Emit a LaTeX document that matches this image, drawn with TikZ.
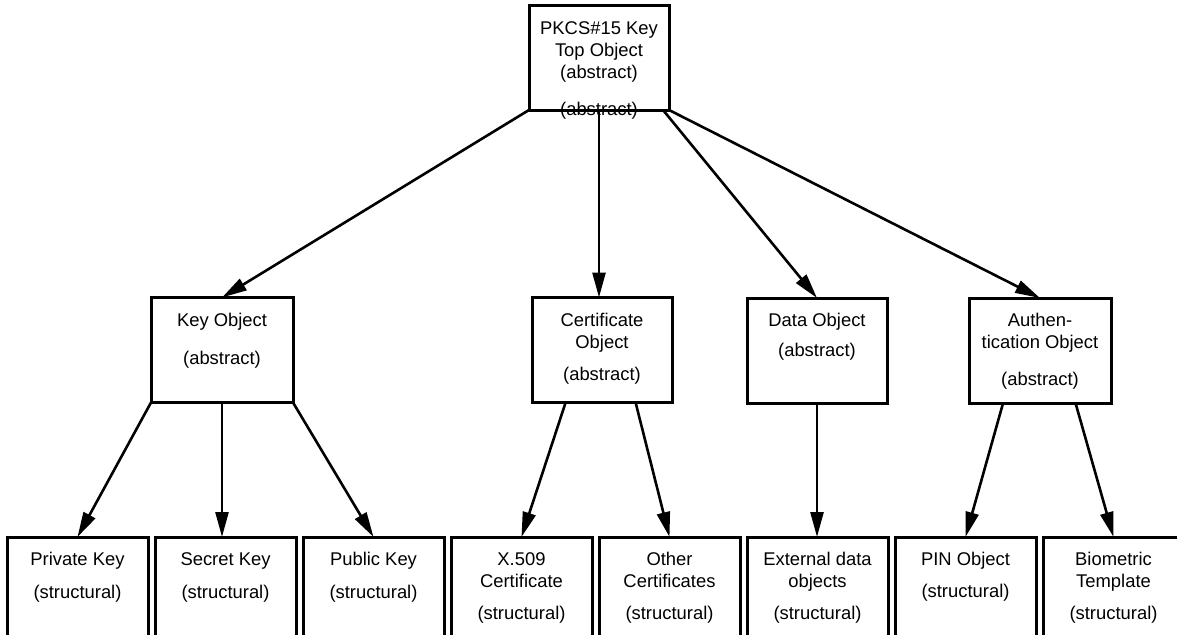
\documentclass[tikz,border=0pt]{standalone}
\usepackage{fontspec}
\setmainfont{Liberation Sans}
\usetikzlibrary{arrows.meta,calc}

\begin{document}
\begin{tikzpicture}[x=1pt,y=-1pt,
  box/.style={draw=black, line width=3pt, inner sep=0pt, outer sep=0pt,
              minimum width=#1},
  upper/.style={box=#1, minimum height=105pt},
  lower/.style={box=141pt, minimum height=143pt},
  lbl/.style={anchor=north, inner sep=0pt, align=center,
              font=\fontsize{18.4}{22}\selectfont},
  link/.style={line width=2.6pt, -{Triangle[length=25pt,width=13pt]}}]

\useasboundingbox (0,0) rectangle (1177,634);
\clip (0,0) rectangle (1177,634);

% root object
\node[box=140pt, minimum height=104pt] (top) at (599,58) {};
\node[lbl] (top-t) at ([yshift=-15pt]top.north)
  {PKCS\#15 Key\\Top Object\\(abstract)\\[15pt](abstract)};

% abstract classes
\node[upper=142pt] (key)  at (222,350)   {};
\node[upper=140pt] (cert) at (602,350)   {};
\node[upper=140pt] (data) at (817,350.5) {};
\node[upper=142pt] (auth) at (1040,350.5) {};

\node[lbl] (key-t)  at ([yshift=-15pt]key.north)  {Key Object\\[16pt](abstract)};
\node[lbl] (cert-t) at ([yshift=-15pt]cert.north) {Certificate\\Object\\[10pt](abstract)};
\node[lbl] (data-t) at ([yshift=-15pt]data.north) {Data Object\\[8pt](abstract)};
\node[lbl] (auth-t) at ([yshift=-15pt]auth.north) {Authen-\\tication Object\\[15pt](abstract)};

% structural classes
\node[lower] (priv)  at (77.5,608.5)   {};
\node[lower] (sec)   at (225.5,608.5)  {};
\node[lower] (pub)   at (373.5,608.5)  {};
\node[lower] (x509)  at (521.5,608.5)  {};
\node[lower] (other) at (669.5,608.5)  {};
\node[lower] (ext)   at (817.5,608.5)  {};
\node[lower] (pin)   at (965.5,608.5)  {};
\node[lower] (bio)   at (1113.5,608.5) {};

\node[lbl] (priv-t)  at ([yshift=-15pt]priv.north)  {Private Key\\[11pt](structural)};
\node[lbl] (sec-t)   at ([yshift=-15pt]sec.north)   {Secret Key\\[11pt](structural)};
\node[lbl] (pub-t)   at ([yshift=-15pt]pub.north)   {Public Key\\[11pt](structural)};
\node[lbl] (x509-t)  at ([yshift=-15pt]x509.north)  {X.509\\Certificate\\[10pt](structural)};
\node[lbl] (other-t) at ([yshift=-15pt]other.north) {Other\\Certificates\\[10pt](structural)};
\node[lbl] (ext-t)   at ([yshift=-15pt]ext.north)   {External data\\objects\\[10pt](structural)};
\node[lbl] (pin-t)   at ([yshift=-15pt]pin.north)   {PIN Object\\[10pt](structural)};
\node[lbl] (bio-t)   at ([yshift=-15pt]bio.north)   {Biometric\\Template\\[10pt](structural)};

% root to abstract classes
\draw[link] (top.south west) -- (key.north);
\draw[link] (top.south) -- (top.south |- cert.north);
\draw[link] ([xshift=-6pt]top.south east) -- (data.north);
\draw[link] (top.south east) -- (auth.north);

% abstract to structural classes
\draw[link] (key.south west) -- (priv.north);
\draw[link] (key.south) -- (key.south |- sec.north);
\draw[link] (key.south east) -- (pub.north);
\draw[link] ($(cert.south west)!0.24!(cert.south east)$) -- (x509.north);
\draw[link] ($(cert.south west)!0.74!(cert.south east)$) -- (other.north);
\draw[link] (data.south) -- (data.south |- ext.north);
\draw[link] ($(auth.south west)!0.24!(auth.south east)$) -- (pin.north);
\draw[link] ($(auth.south west)!0.75!(auth.south east)$) -- (bio.north);
\end{tikzpicture}
\end{document}
